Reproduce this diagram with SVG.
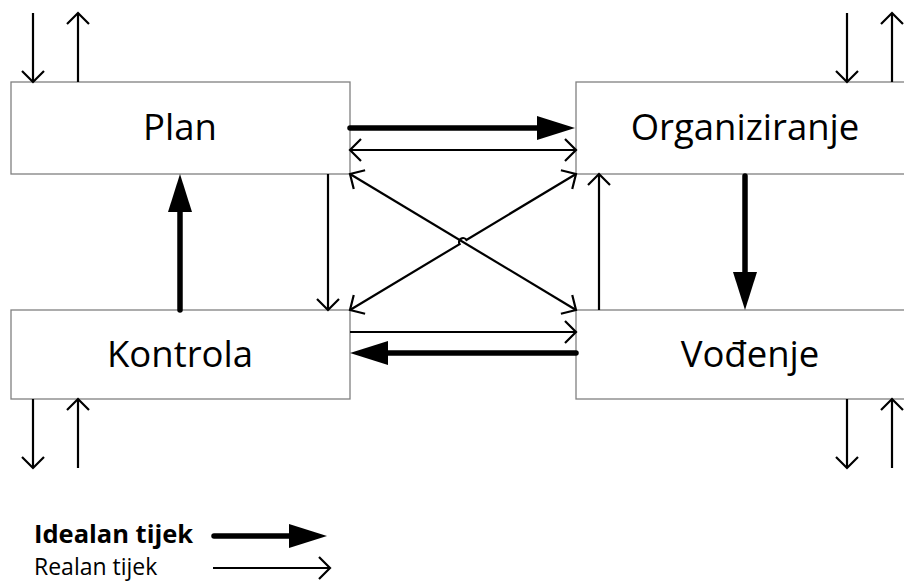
<svg xmlns="http://www.w3.org/2000/svg" width="904" height="582" viewBox="0 0 904 582">
<style>
.box{fill:#fff;stroke:#808080;stroke-width:1.3}
.lbl{font-family:"Open Sans","Liberation Sans",sans-serif;font-size:36.5px;fill:#000;text-anchor:middle}
.thin{stroke:#000;stroke-width:2.2;fill:none;marker-end:url(#open)}
.dbl{stroke:#000;stroke-width:2.2;fill:none;marker-end:url(#open);marker-start:url(#open)}
.thick{stroke:#000;stroke-width:5.5;fill:none;stroke-linecap:round;marker-end:url(#solid)}
.leg{font-family:"Open Sans","Liberation Sans",sans-serif;fill:#000}
</style>
<defs>
<marker id="open" markerUnits="userSpaceOnUse" orient="auto-start-reverse" markerWidth="30" markerHeight="30" refX="0" refY="0" viewBox="-15 -15 30 30" overflow="visible">
<path d="M-11,-11 L0,0 L-11,11" fill="none" stroke="#000" stroke-width="2.2"/>
</marker>
<marker id="solid" markerUnits="userSpaceOnUse" orient="auto" markerWidth="50" markerHeight="30" refX="0" refY="0" viewBox="0 -15 50 30" overflow="visible">
<path d="M0,-12 L38,0 L0,12 z" fill="#000"/>
</marker>
</defs>
<rect width="904" height="582" fill="#fff"/>
<g id="plan"><rect class="box" x="11" y="82" width="339" height="92"/><text class="lbl" x="180" y="140">Plan</text></g>
<g id="organiziranje"><rect class="box" x="576" y="82" width="340" height="92"/><text class="lbl" x="745" y="140">Organiziranje</text></g>
<g id="kontrola"><rect class="box" x="11" y="310" width="339" height="89"/><text class="lbl" x="180" y="367">Kontrola</text></g>
<g id="vodjenje"><rect class="box" x="576" y="310" width="340" height="89"/><text class="lbl" x="750" y="367">Vođenje</text></g>
<g id="connectors">
<line class="thin" x1="33" y1="13" x2="33" y2="82"/>
<line class="thin" x1="78" y1="82" x2="78" y2="13"/>
<line class="thin" x1="847" y1="13" x2="847" y2="82"/>
<line class="thin" x1="892" y1="82" x2="892" y2="13"/>
<line class="thin" x1="33" y1="399" x2="33" y2="468"/>
<line class="thin" x1="78" y1="468" x2="78" y2="399"/>
<line class="thin" x1="847" y1="399" x2="847" y2="468"/>
<line class="thin" x1="892" y1="468" x2="892" y2="399"/>
<line class="thick" x1="350" y1="128" x2="537" y2="128"/>
<line class="thick" x1="745" y1="176" x2="745" y2="272"/>
<line class="thick" x1="576" y1="353" x2="388" y2="353"/>
<line class="thick" x1="180" y1="310" x2="180" y2="212"/>
<line class="dbl" x1="350" y1="150" x2="576" y2="150"/>
<line class="dbl" x1="350" y1="174" x2="576" y2="310"/>
<path class="dbl" d="M350,310 L459.6,244.1 A4,4 0 0 1 466.4,239.9 L576,174"/>
<line class="thin" x1="328" y1="174" x2="328" y2="310"/>
<line class="thin" x1="599" y1="310" x2="599" y2="174"/>
<line class="thin" x1="350" y1="332" x2="576" y2="332"/>
</g>
<g id="legend">
<text class="leg" x="34" y="543" font-size="25.5" font-weight="bold">Idealan tijek</text>
<line class="thick" x1="214" y1="536" x2="289" y2="536"/>
<text class="leg" x="34" y="575" font-size="23">Realan tijek</text>
<line class="thin" x1="213" y1="568" x2="330" y2="568"/>
</g>
</svg>
